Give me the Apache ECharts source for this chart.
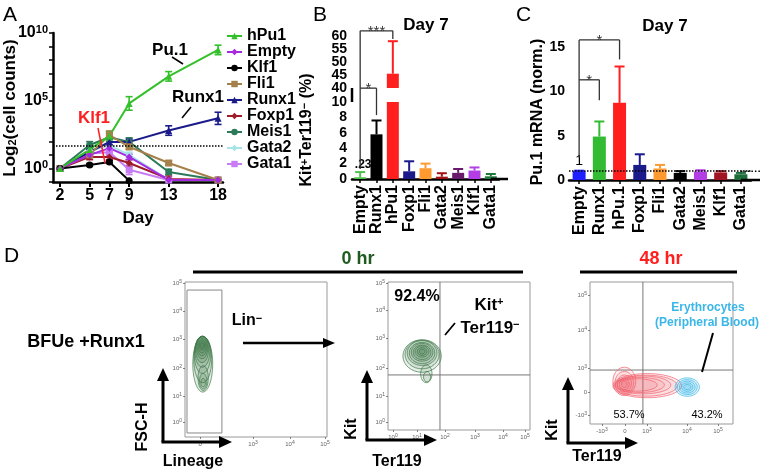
<!DOCTYPE html>
<html>
<head>
<meta charset="utf-8">
<script src="https://cdn.jsdelivr.net/npm/echarts@6.0.0/dist/echarts.min.js"></script>
<style>
html,body{margin:0;padding:0;background:#fff;}
#chart{width:762px;height:474px;}
</style>
</head>
<body>
<div id="chart"></div>
<script>
// ---------------- Panel A data (log10 of cell counts) ----------------
const daysA = [2, 5, 7, 9, 13, 18];
const namesA = ['hPu1','Empty','Klf1','Fli1','Runx1','Foxp1','Meis1','Gata2','Gata1'];
const hPu1A  = [0, 1.4, 2.4, 4.8, 6.8, 8.75];
const emptyA = [0, 1.0, 1.5, 0.85, -0.85, -0.85];
const klf1A  = [0, 0.26, 0.48, -0.9];
const fli1A  = [0, 1.0, 2.47, 1.6, 0.4, -0.85];
const runx1A = [0, 1.2, 1.96, 1.96, 2.8, 3.7];
const foxp1A = [0, 0.85, 0.85, 0.4, -0.77, -0.85];
const meis1A = [0, 1.73, 2.3, 1.96, -0.26, -0.85];
const gata2A = [0, 1.3, 1.7, 1.0, -0.85, -0.85];
const gata1A = [0, 1.1, 1.2, -0.1, -0.85, -0.85];
const hPu1ErrA  = [0, 0.2, 0.3, 0.5, 0.35, 0.35];
const emptyErrA = [0, 0.15, 0.2, 0.2, 0.1, 0];
const klf1ErrA  = [0, 0.1, 0.1, 0];
const fli1ErrA  = [0, 0.2, 0.3, 0.2, 0.15, 0];
const runx1ErrA = [0, 0.2, 0.2, 0.2, 0.35, 0.45];
const foxp1ErrA = [0, 0.2, 0.2, 0.25, 0.2, 0];
const meis1ErrA = [0, 0.25, 0.3, 0.3, 0.2, 0];
const gata2ErrA = [0, 0.15, 0.2, 0.2, 0, 0];
const gata1ErrA = [0, 0.2, 0.25, 0.35, 0, 0];
const yTicksA = [0, 5, 10];
const yMinorA = [-1,0,1,2,3,4,5,6,7,8,9,10];
const thresholdA = 1.66;

// ---------------- Panel B data ----------------
const catsB = ['Empty','Runx1','hPu1','Foxp1','Fli1','Gata2','Meis1','Klf1','Gata1'];
const valsB = [0.23, 5.8, 45.5, 1.0, 1.4, 0.3, 0.8, 1.1, 0.35];
const errTopB = [0.9, 7.6, 58, 2.3, 2.0, 0.75, 1.3, 1.5, 0.65];
const colorsB = ['#4fc04f','#000000','#ff1f1f','#1a1a8a','#ff9a30','#a01414','#6a1a6a','#b43ee6','#1e7a3c'];
const lowerRangeB = [0, 10];
const upperRangeB = [40, 60];
const lowerTicksB = [0, 2, 4, 6, 8, 10];
const upperTicksB = [40, 45, 50, 55, 60];

// ---------------- Panel C data ----------------
const catsC = ['Empty','Runx1','hPu.1','Foxp1','Fli1','Gata2','Meis1','Klf1','Gata1'];
const valsC = [1, 4.9, 8.7, 1.7, 1.3, 0.8, 0.95, 0.85, 0.65];
const errTopC = [1.05, 6.6, 12.8, 2.9, 1.7, 1.0, 1.1, 1.0, 0.8];
const colorsC = ['#1f1fff','#33bb33','#ff1f1f','#1a1a8a','#ff9a30','#000000','#b43ee6','#a01424','#1e6e3c'];
const ticksC = [0, 5, 10, 15];

// ---------------- Panel D (flow plots, axis units = % of plot box) ----------------
const flow1XTicks = [10.6, 47.9, 73.9, 98.6];
const flow1XLabels = ['0','10^3','10^4','10^5'];
const flow1YTicks = [9.7, 26.5, 44.5, 63.2, 81.3, 99.4];
const flow1YLabels = ['10^0','10^1','10^2','10^3','10^4','10^5'];
const flow2XTicks = [3.5, 20.4, 40.1, 61.3, 81, 96.5];
const flow2XLabels = ['10^0','10^1','10^2','10^3','10^4','10^5'];
const flow2YTicks = [5.4, 23, 41.9, 62.2, 81, 99.3];
const flow2YLabels = ['10^0','10^1','10^2','10^3','10^4','10^5'];
const flow3XTicks = [8.4, 24.5, 39.9, 67.8, 89.5];
const flow3XLabels = ['-10^3','0','10^3','10^4','10^5'];
const flow3YTicks = [6.3, 22.5, 39.4, 66.2, 90.8];
const flow3YLabels = ['-10^3','0','10^3','10^4','10^5'];
const gate1 = [[1.4, 2.6, 26, 94.8]];
const quad2 = [[36.6, 37.2]];
const quad3 = [[37, 38]];
const contour1 = [
  [12.5,47,7,18],[12.5,50,6.3,15],[12.3,53,5.8,12],[12.2,55,5.2,10],[12,56.5,4.6,8.5],
  [12,57.5,4,7],[12,58,3.4,5.6],[12,58.5,2.7,4.3],[12,59,2,3],[12,59,1.2,1.8],
  [12.8,38,3.6,8],[12.8,36,2.6,5],[12.8,35,1.6,2.8]
];
const contour2 = [
  [24,50,13.5,11],[24,51,12,9.7],[24,52,10.5,8.4],[24,52,9,7.2],[24,52.5,7.6,6],
  [24,52.5,6.2,4.9],[24,53,4.8,3.8],[24,53,3.4,2.7],[24,53,2,1.6],
  [27,38,4,6],[27.5,36,2.5,3.5]
];
const contour3Red = [
  [40,27,24,8.5],[39,27,22,7.4],[37,27.5,19.5,6.3],[35,27.5,17,5.3],[33,27.5,14,4.4],
  [24,30,8,10],[24,29,6.5,8],[24,28.5,5,6],[24,28,3.5,4],[24,28,2,2.4]
];
const contour3Blue = [[68,26,8.5,6.5],[68,26,7,5.3],[68,26,5.5,4.2],[68,26,4,3],[68,26,2.5,1.8]];

// ---------------- helpers ----------------
const F = '"Liberation Sans", Arial, Helvetica, sans-serif';
function supLabel(s){
  const m = /^(-?)10\^(\d+)$/.exec(s);
  if (!m) return '{b|' + s + '}';
  return '{b|' + m[1] + '10}{s|' + m[2] + '}';
}
const flowRich = {
  b:{fontSize:6, color:'#666', fontFamily:F, lineHeight:8},
  s:{fontSize:5, color:'#666', fontFamily:F, verticalAlign:'top', lineHeight:5}
};
function nearestIdx(arr, v){ let b=0; for(let i=1;i<arr.length;i++) if(Math.abs(arr[i]-v)<Math.abs(arr[b]-v)) b=i; return b; }
function flowAxis(grid, ticks, labels){
  return {gridIndex:grid, type:'value', min:0, max:100, axisLine:{show:false}, splitLine:{show:false},
    axisTick:{show:true, customValues:ticks, length:2, lineStyle:{color:'#666', width:0.8}},
    axisLabel:{show:true, customValues:ticks, margin:3, rich:flowRich, hideOverlap:false,
      formatter:(v)=>supLabel(labels[nearestIdx(ticks, v)])}};
}
function errBarsA(color){
  return function(params, api){
    const x = api.value(0), y = api.value(1), e = api.value(2);
    if (!e) return null;
    const t = api.coord([x, y + e]), b = api.coord([x, y - e]);
    const w = 3.5, st = {stroke:color, lineWidth:1.6};
    return {type:'group', children:[
      {type:'line', shape:{x1:t[0],y1:t[1],x2:b[0],y2:b[1]}, style:st},
      {type:'line', shape:{x1:t[0]-w,y1:t[1],x2:t[0]+w,y2:t[1]}, style:st},
      {type:'line', shape:{x1:b[0]-w,y1:b[1],x2:b[0]+w,y2:b[1]}, style:st}
    ]};
  };
}
function errBarsUp(colors, w){
  return function(params, api){
    const i = api.value(0), v = api.value(1), top = api.value(2);
    const a = api.coord([i, v]), t = api.coord([i, top]);
    const st = {stroke:colors[i], lineWidth:2};
    return {type:'group', children:[
      {type:'line', shape:{x1:a[0],y1:a[1],x2:t[0],y2:t[1]}, style:st},
      {type:'line', shape:{x1:t[0]-w,y1:t[1],x2:t[0]+w,y2:t[1]}, style:st}
    ]};
  };
}
function contourRender(stroke, fill, lw){
  return function(params, api){
    const c = api.coord([api.value(0), api.value(1)]);
    const s = api.size([api.value(2), api.value(3)]);
    return {type:'ellipse', shape:{cx:c[0], cy:c[1], rx:s[0], ry:s[1]}, style:{stroke, fill, lineWidth:lw}};
  };
}
function quadRender(params, api){
  const cs = params.coordSys;
  const p = api.coord([api.value(0), api.value(1)]);
  const st = {stroke:'#777', lineWidth:1};
  return {type:'group', children:[
    {type:'line', shape:{x1:p[0], y1:cs.y, x2:p[0], y2:cs.y+cs.height}, style:st},
    {type:'line', shape:{x1:cs.x, y1:p[1], x2:cs.x+cs.width, y2:p[1]}, style:st}
  ]};
}
function gateRender(params, api){
  const a = api.coord([api.value(0), api.value(1)]);
  const b = api.coord([api.value(2), api.value(3)]);
  return {type:'rect', shape:{x:a[0], y:b[1], width:b[0]-a[0], height:a[1]-b[1]}, style:{stroke:'#888', fill:'none', lineWidth:1}};
}
// tick labels for the broken axis of panel B, placed through that axis' own scale
function tickLabelRender(params, api){
  const v = api.value(1);
  const p = api.coord([0, v]);
  const x0 = params.coordSys.x;
  return {type:'text', x:x0 - 5, y:p[1], style:{text:String(v), fill:'#000', fontSize:14, fontWeight:'bold', fontFamily:F,
    align:'right', verticalAlign:'middle'}};
}

const boldLbl = {fontSize:16, fontWeight:'bold', color:'#000', fontFamily:F};
const axLine = {lineStyle:{color:'#000', width:2.5}, onZero:false};
const axTick = {length:5, lineStyle:{color:'#000', width:2}};
const supRich = {
  b:{fontSize:16, fontWeight:'bold', color:'#000', fontFamily:F, lineHeight:18},
  s:{fontSize:11, fontWeight:'bold', color:'#000', fontFamily:F, verticalAlign:'top', lineHeight:11}
};
const valLbl = (ticks) => ({customValues:ticks, margin:4, fontSize:14, fontWeight:'bold', color:'#000', fontFamily:F,
  hideOverlap:false, showMinLabel:true, showMaxLabel:true, lineHeight:11});

// ---------------- series ----------------
const series = [];
const tableA = [
  ['hPu1', hPu1A, hPu1ErrA, '#33c02a', 'triangle'],
  ['Empty', emptyA, emptyErrA, '#a52be0', 'diamond'],
  ['Klf1', klf1A, klf1ErrA, '#000000', 'circle'],
  ['Fli1', fli1A, fli1ErrA, '#a5804a', 'rect'],
  ['Runx1', runx1A, runx1ErrA, '#1a1a8a', 'triangle'],
  ['Foxp1', foxp1A, foxp1ErrA, '#9e1b2a', 'diamond'],
  ['Meis1', meis1A, meis1ErrA, '#2b7a5a', 'circle'],
  ['Gata2', gata2A, gata2ErrA, '#a6e4ea', 'diamond'],
  ['Gata1', gata1A, gata1ErrA, '#c77cf5', 'rect']
];
tableA.slice().reverse().forEach(([name, vals, errs, color, sym]) => {
  series.push({name: name + '_err', type:'custom', xAxisIndex:0, yAxisIndex:0,
    data: vals.map((v,i)=>[daysA[i], v, errs[i]]), renderItem: errBarsA(color), z:2});
  series.push({name, type:'line', xAxisIndex:0, yAxisIndex:0, data: vals.map((v,i)=>[daysA[i], v]),
    symbol: sym, symbolSize: 7, lineStyle:{color, width:2}, itemStyle:{color}, z:3,
    markLine: name === 'hPu1' ? {silent:true, symbol:'none', data:[{yAxis:thresholdA}],
      lineStyle:{type:'dotted', color:'#000', width:1.5}, label:{show:false}} : undefined});
});

// Panel B bars
series.push({type:'bar', xAxisIndex:1, yAxisIndex:1, barWidth:12,
  data: valsB.map((v,i)=> ({value:v, itemStyle:{color:colorsB[i]}}))});
series.push({type:'bar', xAxisIndex:2, yAxisIndex:2, barWidth:12,
  data: valsB.map((v,i)=> v >= upperRangeB[0] ? {value:v, itemStyle:{color:colorsB[i]}} : '-')});
series.push({type:'custom', xAxisIndex:1, yAxisIndex:1, renderItem: errBarsUp(colorsB, 5),
  data: valsB.map((v,i)=>[i, v, errTopB[i]]).filter(d => d[2] <= lowerRangeB[1])});
series.push({type:'custom', xAxisIndex:2, yAxisIndex:2, renderItem: errBarsUp(colorsB, 5),
  data: valsB.map((v,i)=>[i, v, errTopB[i]]).filter(d => d[1] >= upperRangeB[0])});
series.push({type:'custom', xAxisIndex:1, yAxisIndex:1, renderItem: tickLabelRender, clip:false, z:50, silent:true,
  data: lowerTicksB.map(v => [0, v])});
series.push({type:'custom', xAxisIndex:2, yAxisIndex:2, renderItem: tickLabelRender, clip:false, z:50, silent:true,
  data: upperTicksB.map(v => [0, v])});

// Panel C bars
series.push({type:'bar', xAxisIndex:3, yAxisIndex:3, barWidth:13,
  data: valsC.map((v,i)=> i === 0 ? {value:v, itemStyle:{color:colorsC[i]},
    label:{show:true, position:'top', distance:3, formatter:'1', fontSize:14, color:'#000'}}
    : {value:v, itemStyle:{color:colorsC[i]}}),
  markLine:{silent:true, symbol:'none', data:[{yAxis:1}], lineStyle:{type:'dotted', color:'#000', width:1.5}, label:{show:false}}});
series.push({type:'custom', xAxisIndex:3, yAxisIndex:3, renderItem: errBarsUp(colorsC, 5),
  data: valsC.map((v,i)=>[i, v, errTopC[i]])});

// Panel D flows
const green = '#3d7a48';
series.push({type:'custom', xAxisIndex:4, yAxisIndex:4, renderItem: gateRender, data: gate1});
series.push({type:'custom', xAxisIndex:4, yAxisIndex:4, renderItem: contourRender(green, 'rgba(40,100,50,0.13)', 0.7), data: contour1});
series.push({type:'custom', xAxisIndex:5, yAxisIndex:5, renderItem: quadRender, data: quad2});
series.push({type:'custom', xAxisIndex:5, yAxisIndex:5, renderItem: contourRender(green, 'rgba(40,100,50,0.10)', 0.7), data: contour2});
series.push({type:'custom', xAxisIndex:6, yAxisIndex:6, renderItem: quadRender, data: quad3});
series.push({type:'custom', xAxisIndex:6, yAxisIndex:6, renderItem: contourRender('#f0606e', 'rgba(240,90,100,0.10)', 0.7), data: contour3Red});
series.push({type:'custom', xAxisIndex:6, yAxisIndex:6, renderItem: contourRender('#3ab6e8', 'rgba(58,182,232,0.12)', 0.7), data: contour3Blue});

const catAxis = (grid, cats, show) => ({gridIndex:grid, type:'category', data:cats, show,
  axisLine:{lineStyle:{color:'#000', width:2.5}}, axisTick:{show:true, alignWithLabel:true, length:4, lineStyle:{color:'#000', width:1.5}},
  axisLabel:Object.assign({rotate:90, margin:6, interval:0, hideOverlap:false}, boldLbl)});

const option = {
  animation:false,
  textStyle:{fontFamily:F},
  grid:[
    {left:53, top:33, width:170, height:149},
    {left:352, top:102, width:147, height:77},
    {left:352, top:36, width:147, height:52},
    {left:569, top:47, width:182, height:133},
    {left:185, top:282, width:142, height:155, show:true, borderColor:'#999', borderWidth:1},
    {left:388, top:282, width:142, height:148, show:true, borderColor:'#999', borderWidth:1},
    {left:590, top:282, width:143, height:142, show:true, borderColor:'#999', borderWidth:1}
  ],
  xAxis:[
    {gridIndex:0, type:'value', min:1.29, max:18.5, axisLine:axLine, splitLine:{show:false},
      axisTick:Object.assign({customValues:daysA}, axTick), axisLabel:Object.assign({customValues:daysA, margin:6, hideOverlap:false}, boldLbl)},
    catAxis(1, catsB, true),
    catAxis(2, catsB, false),
    catAxis(3, catsC, true),
    flowAxis(4, flow1XTicks, flow1XLabels),
    flowAxis(5, flow2XTicks, flow2XLabels),
    flowAxis(6, flow3XTicks, flow3XLabels)
  ],
  yAxis:[
    {gridIndex:0, type:'value', min:-1, max:10, axisLine:axLine, splitLine:{show:false},
      axisTick:{customValues:yMinorA, length:4, lineStyle:{color:'#000', width:1.5}},
      axisLabel:{customValues:yTicksA, margin:5, hideOverlap:false, formatter:(v)=>'{b|10}{s|' + v + '}', rich:supRich}},
    {gridIndex:1, type:'value', position:'left', min:lowerRangeB[0], max:lowerRangeB[1], axisLine:axLine, splitLine:{show:false},
      axisTick:Object.assign({customValues:lowerTicksB}, axTick), axisLabel:{show:false}},
    {gridIndex:2, type:'value', position:'left', min:upperRangeB[0], max:upperRangeB[1], axisLine:axLine, splitLine:{show:false},
      axisTick:Object.assign({customValues:upperTicksB}, axTick), axisLabel:{show:false}},
    {gridIndex:3, type:'value', min:0, max:15, axisLine:axLine, splitLine:{show:false},
      axisTick:Object.assign({customValues:ticksC}, axTick), axisLabel:valLbl(ticksC)},
    flowAxis(4, flow1YTicks, flow1YLabels),
    flowAxis(5, flow2YTicks, flow2YLabels),
    flowAxis(6, flow3YTicks, flow3YLabels)
  ],
  legend:{data:namesA, orient:'vertical', left:221, top:23, itemWidth:15, itemHeight:8, itemGap:0,
    textStyle:{fontSize:16, fontWeight:'bold', color:'#000', fontFamily:F, lineHeight:15}},
  series
};

const chart = echarts.init(document.getElementById('chart'));
chart.setOption(option);

// ---------------- annotations ----------------
function T(x, y, text, o){
  o = o || {};
  return {type:'text', x, y, rotation:o.rot || 0, z:100,
    style:Object.assign({text, fill:'#000', fontSize:16, fontWeight:'bold', fontFamily:F, align:'center', verticalAlign:'middle'}, o.style || {})};
}
function L(x1,y1,x2,y2,w,c){ return {type:'line', z:100, shape:{x1,y1,x2,y2}, style:{stroke:c || '#000', lineWidth:w || 1.5}}; }
function arrow(x1,y1,x2,y2,lw,hl,hw){
  const dx=x2-x1, dy=y2-y1, len=Math.hypot(dx,dy), ux=dx/len, uy=dy/len;
  const bx=x2-ux*hl, by=y2-uy*hl;
  return [L(x1,y1,bx,by,lw),
    {type:'polygon', z:100, shape:{points:[[x2,y2],[bx-uy*hw,by+ux*hw],[bx+uy*hw,by-ux*hw]]}, style:{fill:'#000'}}];
}
const P = (g, x, y) => chart.convertToPixel({gridIndex:g}, [x, y]);
const supP = {p:{fontSize:11, fontWeight:'bold', verticalAlign:'top', lineHeight:11, fontFamily:F}};
const els = [];
const letter = {fontSize:21, fontWeight:'normal', align:'left', verticalAlign:'top'};
els.push(T(3, 5, 'A', {style:letter}), T(313, 5, 'B', {style:letter}), T(516, 5, 'C', {style:letter}), T(4, 246, 'D', {style:letter}));
els.push(T(426, 25, 'Day 7', {style:{fontSize:17}}), T(665, 26, 'Day 7', {style:{fontSize:17}}));
els.push(T(10, 108, 'Log{s|2}(cell counts)', {rot:Math.PI/2, style:{fontSize:17, rich:{s:{fontSize:11, fontWeight:'bold', verticalAlign:'bottom', lineHeight:11, fontFamily:F}}}}));
els.push(T(138, 218, 'Day', {style:{fontSize:17}}));
els.push(T(170, 50, 'Pu.1', {style:{fontSize:17}}), L(172, 57, 183, 64, 1.5));
els.push(T(198, 97, 'Runx1', {style:{fontSize:17}}), L(191, 107, 182, 118, 1.5));
els.push(T(94, 118, 'Klf1', {style:{fill:'#ff1f1f', fontSize:17}}), L(98, 128, 105, 163, 1.5, '#ff1f1f'));
els.push(T(307, 130, 'Kit{p|+}Ter119{p|−} (%)', {rot:Math.PI/2, style:{fontSize:16, rich:supP}}));
els.push(T(538, 112, 'Pu.1 mRNA (norm.)', {rot:Math.PI/2, style:{fontSize:16}}));

// B value label for Empty bar
const pEmpty = P(1, 0, errTopB[0]);
els.push(T(pEmpty[0] + 3, pEmpty[1] - 7, '.23', {style:{fontSize:12}}));
// B: join broken y-axis and extend x-axis
const bUpBot = P(2, 0, upperRangeB[0]), bLoTop = P(1, 0, lowerRangeB[1]);
els.push(L(352, bUpBot[1], 352, bLoTop[1], 2.5));
const bEnd = P(1, 8, 0);
els.push(L(bEnd[0], bEnd[1], 508, bEnd[1], 2.5));
// significance brackets B
const bTop = P(2, 0, 62), bTopR = P(2, 2, 62), bRend = P(2, 2, 58.8), bLeftEnd = P(1, 0, 1.3);
els.push(L(bTop[0], bTop[1], bTopR[0], bTop[1], 1.3, '#333'), L(bTopR[0], bTop[1], bTopR[0], bRend[1], 1.3, '#333'),
  L(bTop[0], bTop[1], bTop[0], bLeftEnd[1], 1.3, '#333'));
els.push(T((bTop[0]+bTopR[0])/2, bTop[1]+1, '***', {style:{fontSize:15, fontWeight:'normal', fill:'#333'}}));
const bS = P(1, 0, 11.8), bSR = P(1, 1, 11.8), bSRend = P(1, 1, 8.3);
els.push(L(bS[0], bS[1], bSR[0], bS[1], 1.3, '#333'), L(bSR[0], bS[1], bSR[0], bSRend[1], 1.3, '#333'));
els.push(T((bS[0]+bSR[0])/2, bS[1]+1, '*', {style:{fontSize:15, fontWeight:'normal', fill:'#333'}}));
// significance brackets C
const cTop = P(3, 0, 15.8), cTopR = P(3, 2, 15.8), cRend = P(3, 2, 13.6), cLeftEnd = P(3, 0, 2.5);
els.push(L(cTop[0], cTop[1], cTopR[0], cTop[1], 1.3, '#333'), L(cTopR[0], cTop[1], cTopR[0], cRend[1], 1.3, '#333'),
  L(cTop[0], cTop[1], cTop[0], cLeftEnd[1], 1.3, '#333'));
els.push(T((cTop[0]+cTopR[0])/2, cTop[1]+1, '*', {style:{fontSize:15, fontWeight:'normal', fill:'#333'}}));
const cS = P(3, 0, 11.3), cSR = P(3, 1, 11.3), cSRend = P(3, 1, 9.0);
els.push(L(cS[0], cS[1], cSR[0], cS[1], 1.3, '#333'), L(cSR[0], cS[1], cSR[0], cSRend[1], 1.3, '#333'));
els.push(T((cS[0]+cSR[0])/2, cS[1]+1, '*', {style:{fontSize:15, fontWeight:'normal', fill:'#333'}}));
// extend C x-axis line and dotted line to the right as in the figure
const cEnd = P(3, 8, 0);
els.push(L(cEnd[0], cEnd[1], 760, cEnd[1], 2.5));
const cDot = P(3, 8, 1);
els.push({type:'line', z:100, shape:{x1:cDot[0], y1:cDot[1], x2:760, y2:cDot[1]}, style:{stroke:'#000', lineWidth:1.5, lineDash:[1.5, 2]}});

// Panel D texts/arrows
els.push(T(358, 259, '0 hr', {style:{fill:'#1f5a1f', fontSize:18}}), L(193, 272, 523, 272, 3));
els.push(T(661, 259, '48 hr', {style:{fill:'#ff1f1f', fontSize:18}}), L(580, 272, 737, 272, 3));
els.push(T(86, 342, 'BFUe +Runx1', {style:{fontSize:18}}));
els.push(T(247, 321, 'Lin{p|−}', {style:{fontSize:16, rich:supP}}));
els.push(...arrow(243, 343, 335, 343, 2.5, 12, 5));
els.push(...arrow(163, 442, 163, 368, 3, 13, 6), ...arrow(161.5, 442, 232, 442, 3, 13, 6));
els.push(...arrow(367, 440, 367, 370, 3, 13, 6), ...arrow(365.5, 440, 437, 440, 3, 13, 6));
els.push(...arrow(568, 443, 568, 377, 3, 13, 6), ...arrow(566.5, 443, 638, 443, 3, 13, 6));
els.push(T(143, 427, 'FSC-H', {rot:Math.PI/2}), T(193, 462, 'Lineage'));
els.push(T(352, 429, 'Kit', {rot:Math.PI/2}), T(397, 462, 'Ter119'));
els.push(T(553, 430, 'Kit', {rot:Math.PI/2}), T(597, 457, 'Ter119'));
els.push(T(417, 297, '92.4%'));
els.push(T(489, 305, 'Kit{p|+}', {style:{fontSize:17, rich:supP}}));
els.push(T(490, 328, 'Ter119{p|−}', {style:{fontSize:17, rich:supP}}));
els.push(L(445, 335, 455, 323, 1.8));
els.push(T(708, 308, 'Erythrocytes', {style:{fontSize:12, fill:'#3ab6e8'}}), T(707, 323, '(Peripheral Blood)', {style:{fontSize:12, fill:'#3ab6e8'}}));
els.push(L(713, 333, 702, 372, 2));
els.push(T(629, 415, '53.7%', {style:{fontSize:11, fontWeight:'normal'}}), T(707, 415, '43.2%', {style:{fontSize:11, fontWeight:'normal'}}));

chart.setOption({graphic:{elements:els}});
</script>
</body>
</html>
